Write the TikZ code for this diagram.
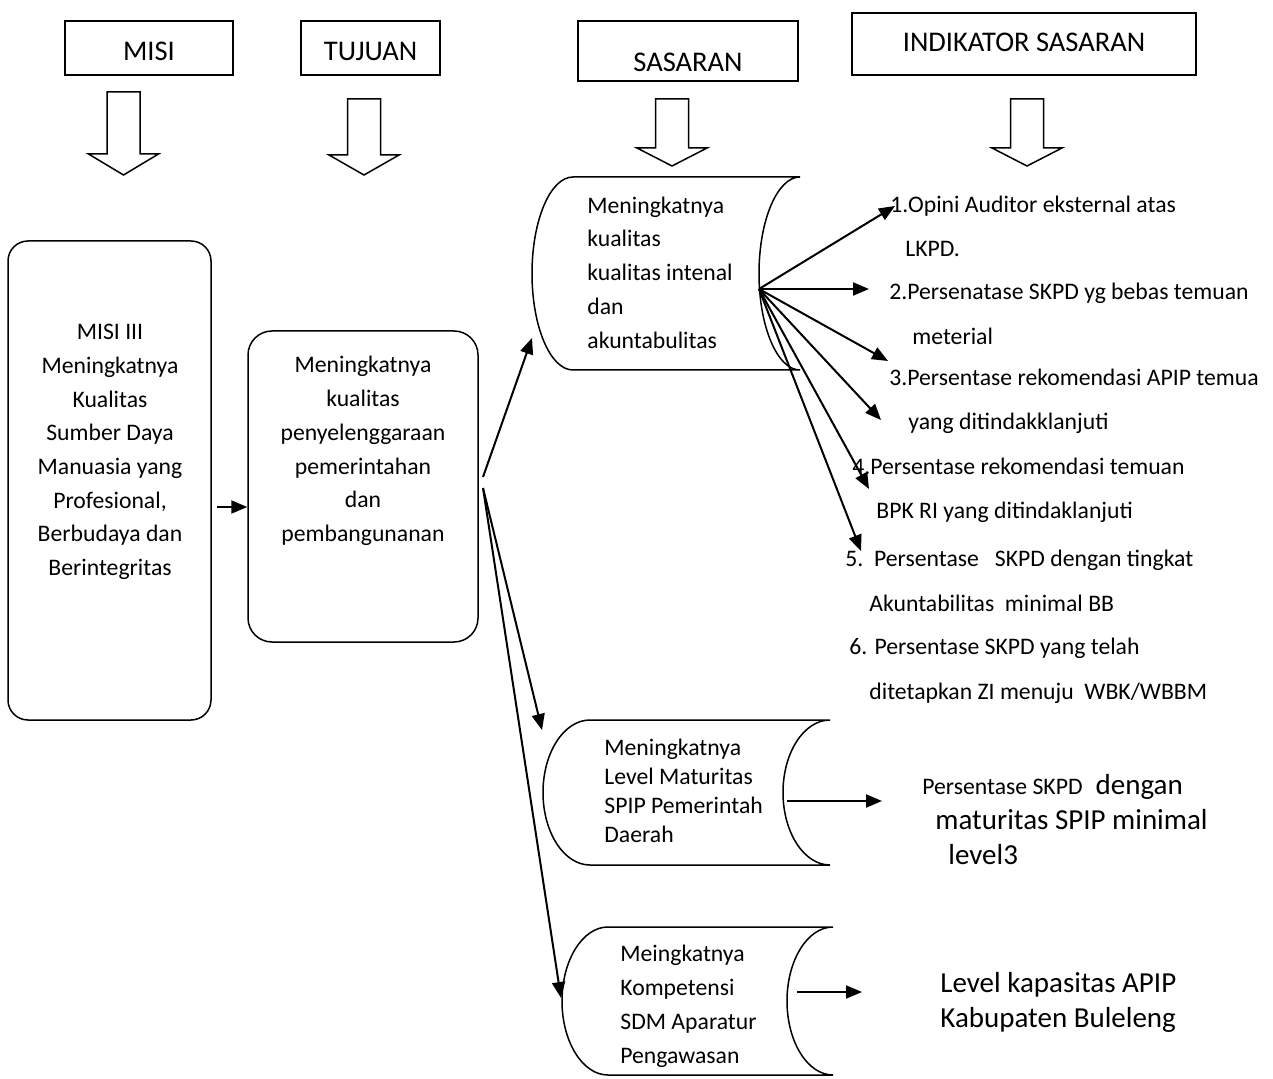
\documentclass[tikz,border=0pt]{standalone}
\usepackage{fontspec}
\setmainfont{Carlito}
\usetikzlibrary{arrows.meta}

\tikzset{
  headbox/.style={draw, line width=0.75pt, inner sep=0pt, minimum height=27pt, text depth=0pt, font=\fontsize{14.25}{17}\selectfont},
  roundbox/.style={draw, line width=0.75pt, rounded corners=10pt, inner sep=0pt},
  txt/.style={inner sep=0pt, font=\fontsize{11.85}{16.85}\selectfont},
  ind/.style={inner sep=0pt, align=left, anchor=west, font=\fontsize{11.85}{22.25}\selectfont},
  bigtxt/.style={inner sep=0pt, align=left, anchor=west, font=\fontsize{14.5}{17.5}\selectfont},
  conn/.style={line width=1pt, -{Triangle[length=8pt,width=6.5pt]}},
  outline/.style={line width=0.75pt},
  pics/hollowarrow/.style 2 args={code={
    \draw[outline] (-16.5,0) -- (-16.5,#1) -- (-35,#1) -- (0,{#1+#2}) -- (35,#1) -- (16.5,#1) -- (16.5,0) -- cycle;}},
}

\begin{document}
\begin{tikzpicture}[x=0.5pt, y=-0.5pt]
\useasboundingbox (0,0) rectangle (1273,1079);

% headers
\node[headbox, minimum width=84pt, text height=13pt] (misi) at (149,48) {MISI};
\node[headbox, minimum width=69.5pt, text height=13pt] (tujuan) at (370.5,48) {TUJUAN};
\node[headbox, minimum width=110pt, minimum height=30pt, text height=21pt] (sasaran) at (688,51) {SASARAN};
\node[headbox, minimum width=172pt, minimum height=31pt, text height=8pt] (indikator) at (1024,44) {INDIKATOR SASARAN};

\pic at (123.5,92) {hollowarrow={62}{21}};
\pic at (364,99) {hollowarrow={56}{20}};
\pic at (672,99) {hollowarrow={49}{18}};
\pic at (1027,99) {hollowarrow={49}{18}};

% misi and tujuan
\node[roundbox, minimum width=101.5pt, minimum height=239.5pt] (misibox) at (109.5,480.5) {};
\node[txt, align=center] (misitext) at (110,452) {MISI III\\Meningkatnya\\Kualitas\\Sumber Daya\\Manuasia yang\\Profesional,\\Berbudaya dan\\Berintegritas};
\node[roundbox, rounded corners=12pt, minimum width=115pt, minimum height=155.5pt] (tujuanbox) at (363,486.5) {};
\node[txt, align=center] (tujuantext) at (363,451) {Meningkatnya\\kualitas\\penyelenggaraan\\pemerintahan\\dan\\pembangunanan};
\coordinate (misiout) at (217,507);
\draw[conn] (misiout) -- (tujuanbox.west |- misiout);

% sasaran scrolls
\draw[outline] (573,177) -- (800,177) arc[start angle=270, end angle=90, x radius=41, y radius=96.5] -- (573,370) arc[start angle=90, end angle=270, x radius=41, y radius=96.5] -- cycle;
\node[txt, align=left, anchor=west] (s1text) at (587,272.5) {Meningkatnya\\kualitas\\kualitas intenal\\dan\\akuntabulitas};
\draw[outline] (590,720) -- (830,720) arc[start angle=270, end angle=90, x radius=47, y radius=72.5] -- (590,865) arc[start angle=90, end angle=270, x radius=47, y radius=72.5] -- cycle;
\node[txt, align=left, anchor=west, font=\fontsize{11.85}{14.5}\selectfont] (s2text) at (604,790.5) {Meningkatnya\\Level Maturitas\\SPIP Pemerintah\\Daerah};
\draw[outline] (608,927) -- (833,927) arc[start angle=270, end angle=90, x radius=46, y radius=74] -- (608,1075) arc[start angle=90, end angle=270, x radius=46, y radius=74] -- cycle;
\node[txt, align=left, anchor=west, font=\fontsize{11.85}{17}\selectfont] (s3text) at (620,1006) {Meingkatnya\\Kompetensi\\SDM Aparatur\\Pengawasan};

\coordinate (fork) at (483,477);
\coordinate (fork2) at (483,488);
\coordinate (s1in) at (532,338);
\coordinate (s2in) at (542,730);
\coordinate (s3in) at (561,998);
\draw[conn] (fork) -- (s1in);
\draw[conn] (fork2) -- (s2in);
\draw[conn] (fork2) -- (s3in);

% indikator
\coordinate (s1out) at (759,289);
\foreach \i/\x/\y in {1/895/206, 2/869/289, 3/888/361, 4/881/420, 5/869/489, 6/861/551}{
  \coordinate (tip\i) at (\x,\y);
  \draw[conn] (s1out) -- (tip\i);
}
\node[ind] (ind1) at (890,226.5) {1.Opini Auditor eksternal atas\\\hspace*{7.5pt}LKPD.};
\node[ind] (ind2) at (889,314) {2.Persenatase SKPD yg bebas temuan\\\hspace*{11.5pt}meterial};
\node[ind] (ind3) at (889,401.5) {3.Persentase rekomendasi APIP temua\\\hspace*{9.5pt}yang ditindakklanjuti};
\node[ind] (ind4) at (852,490.5) {4.Persentase rekomendasi temuan\\\hspace*{12pt}BPK RI yang ditindaklanjuti};
\node[ind] (ind5) at (845,581) {5.\ \ Persentase\ \ \ SKPD dengan tingkat\\\hspace*{12pt}Akuntabilitas\ \ minimal BB};
\node[ind] (ind6) at (849,671) {6. Persentase SKPD yang telah\\\hspace*{10pt}ditetapkan ZI menuju\ \ WBK/WBBM};

\coordinate (s2out) at (787,801);
\coordinate (s2tip) at (882,801);
\draw[conn] (s2out) -- (s2tip);
\node[bigtxt] (spip) at (922,820) {{\fontsize{11.85}{14}\selectfont Persentase SKPD}\ \ dengan\\\hspace*{6.5pt}maturitas SPIP minimal\\\hspace*{13pt}level3};

\coordinate (s3out) at (797,992);
\coordinate (s3tip) at (862,992);
\draw[conn] (s3out) -- (s3tip);
\node[bigtxt] (apip) at (940,1002) {Level kapasitas APIP\\Kabupaten Buleleng};
\end{tikzpicture}
\end{document}
